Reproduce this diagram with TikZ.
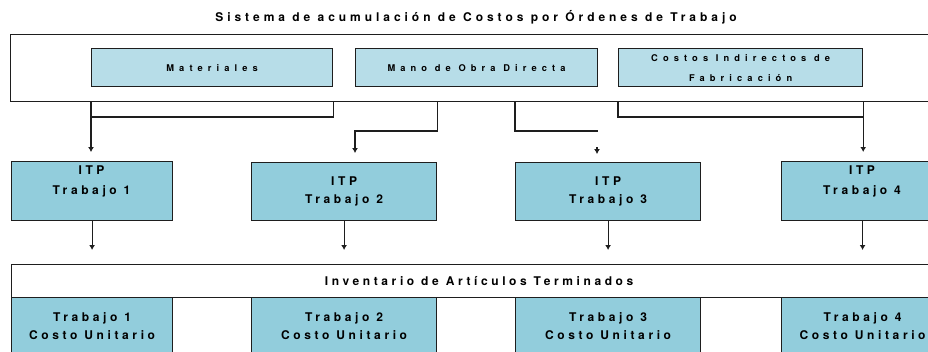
\documentclass[tikz,border=0pt]{standalone}
\usepackage{fontspec}
\setmainfont{TeX Gyre Heros}
\newfontfamily\jobfont[LetterSpace=30]{TeX Gyre Heros}
\newfontfamily\titlefont[LetterSpace=33]{TeX Gyre Heros}
\newfontfamily\costfont[LetterSpace=55]{TeX Gyre Heros}
\usetikzlibrary{arrows.meta,positioning}
\definecolor{bandblue}{RGB}{183,221,232}
\definecolor{jobblue}{RGB}{146,205,220}
\definecolor{edgegray}{RGB}{30,30,30}
\tikzset{
	frame/.style={draw=edgegray, line width=1.2pt, fill=white, anchor=north west, inner sep=0pt},
	costbox/.style={frame, fill=bandblue, minimum height=38pt, align=center,
		font=\costfont\bfseries\fontsize{9.3}{20}\selectfont},
	jobbox/.style={frame, fill=jobblue, align=center,
		font=\jobfont\bfseries\fontsize{12}{18.5}\selectfont},
	jobtext/.style={anchor=north, inner sep=0pt, align=center,
		font=\jobfont\bfseries\fontsize{12}{20}\selectfont},
	flow/.style={draw=edgegray, line width=1.2pt},
	tip/.style={-{Latex[length=5pt,width=6pt]}},
	feed/.style={flow, tip, shorten >=9pt},
	drop/.style={flow, tip, shorten >=14pt},
}
\begin{document}
\begin{tikzpicture}[x=1pt,y=-1pt]
	\useasboundingbox (0,0) rectangle (928,351);
	\clip (0,0) rectangle (928,351);
	\node (title) [font=\titlefont\bfseries\fontsize{12}{14}\selectfont, inner sep=0pt] at (476,17)
		{Sistema de acumulación de Costos por Órdenes de Trabajo};
	\node (topband) [frame, minimum width=935pt, minimum height=67pt] at (10,34) {};
	\node (mat) [costbox, minimum width=241pt] at (91,48) {Materiales};
	\node (mod) [costbox, minimum width=242pt] at (355,48) {Mano de Obra Directa};
	\node (cif) [costbox, minimum width=244pt] at (618,48) {Costos Indirectos de\\Fabricación};
	\node (itp1) [jobbox, minimum width=161pt, minimum height=59pt] at (11,161) {};
	\node (itp2) [jobbox, minimum width=185pt, minimum height=58pt] at (251,162) {ITP\\Trabajo 2};
	\node (itp3) [jobbox, minimum width=185pt, minimum height=58pt] at (515,162) {ITP\\Trabajo 3};
	\node (itp4) [jobbox, minimum width=162pt, minimum height=59pt] at (781,161) {};
	\node (itp1txt) [jobtext] at (91.5,166) {ITP\\Trabajo 1};
	\node (itp4txt) [jobtext] at (862,166) {ITP\\Trabajo 4};
	\node (inv) [jobbox, fill=white, minimum width=935pt, minimum height=33pt] at (11,264)
		{Inventario de Artículos Terminados};
	\node (pt1) [jobbox, minimum width=161pt, minimum height=57pt] at (11,297) {Trabajo 1\\Costo Unitario};
	\node (pt2) [jobbox, minimum width=185pt, minimum height=57pt] at (251,297) {Trabajo 2\\Costo Unitario};
	\node (pt3) [jobbox, minimum width=185pt, minimum height=57pt] at (515,297) {Trabajo 3\\Costo Unitario};
	\node (pt4) [jobbox, minimum width=162pt, minimum height=57pt] at (781,297) {Trabajo 4\\Costo Unitario};
	\coordinate (matbar) at (0,117);
	\coordinate (modbar) at (0,131);
	\coordinate (stub3) at (597,147);
	\coordinate (stubend3) at (597,154);
	\draw[flow] (mat.east |- topband.south) |- (mat.west |- matbar);
	\draw[feed] (mat.west |- topband.south) -- (mat.west |- itp1.north);
	\draw[feed] (itp2.east |- topband.south) |- (mod.west |- modbar) -- (mod.west |- itp2.north);
	\draw[flow] (itp3.west |- topband.south) |- (mod.east |- modbar);
	\draw[flow, tip] (stub3) -- (stubend3);
	\draw[flow] (cif.west |- topband.south) |- (cif.east |- matbar);
	\draw[feed] (cif.east |- topband.south) -- (cif.east |- itp4.north);
	\foreach \j in {1,...,4}
		\draw[drop] (itp\j.south) -- (itp\j.south |- inv.north);
\end{tikzpicture}
\end{document}
